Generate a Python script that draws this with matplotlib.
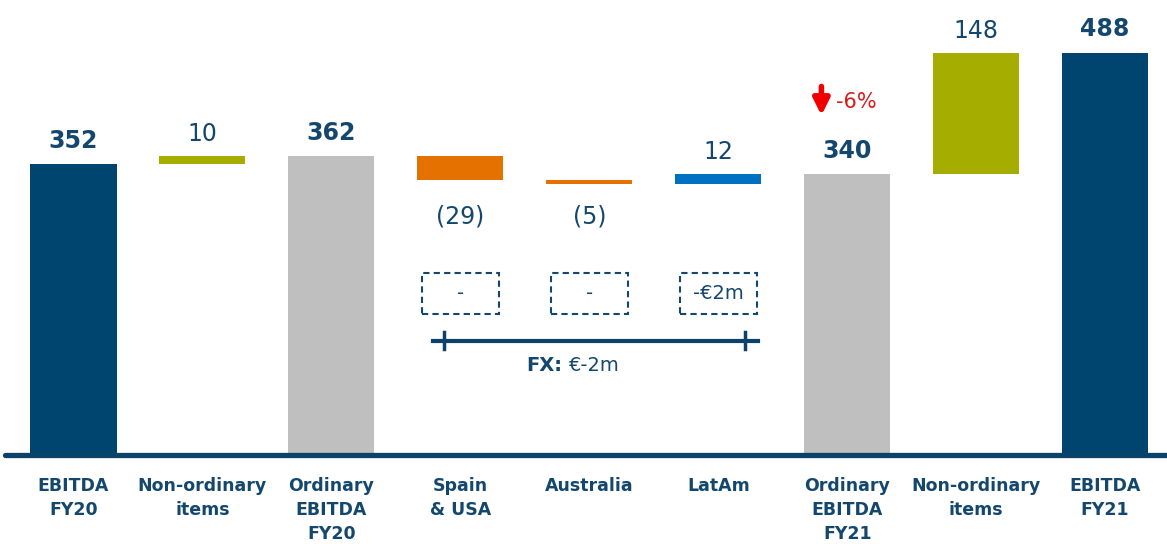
import matplotlib.pyplot as plt
from matplotlib.patches import Rectangle

categories = ["EBITDA\nFY20", "Non-ordinary\nitems", "Ordinary\nEBITDA\nFY20",
              "Spain\n& USA", "Australia", "LatAm",
              "Ordinary\nEBITDA\nFY21", "Non-ordinary\nitems", "EBITDA\nFY21"]
values = [352, 10, 362, -29, -5, 12, 340, 148, 488]
is_total = [True, False, True, False, False, False, True, False, True]
colors = ["#00456F", "#A5AE00", "#BFBFBF", "#E57200", "#E57200", "#0070C0",
          "#BFBFBF", "#A5AE00", "#00456F"]
fx_labels = ["-", "-", "-€2m"]
fx_total = "€-2m"
growth = "-6%"

TXT = "#14476E"

# waterfall bottoms / heights
bottoms, heights = [], []
running = 0
for v, tot in zip(values, is_total):
    if tot:
        bottoms.append(0)
        heights.append(v)
        running = v
    else:
        bottoms.append(min(running, running + v))
        heights.append(abs(v))
        running += v

fig = plt.figure(figsize=(11.67, 5.44), dpi=100)
ax = fig.add_axes([0, 0, 1, 1])
ax.set_xlim(-0.57, 8.48)
ax.set_ylim(-111, 552)
ax.axis("off")

x = list(range(len(values)))
ax.bar(x, heights, bottom=bottoms, width=0.667, color=colors, zorder=2)

# baseline
ax.plot([-0.53, 8.48], [-2.4, -2.4], color="#0B426A", lw=3.8, solid_capstyle="round", zorder=3)

# value labels
neg_y = min(b for b, v in zip(bottoms, values) if v < 0)
for i, (v, tot) in enumerate(zip(values, is_total)):
    if tot:
        ax.annotate(str(v), (i, bottoms[i] + heights[i]), xytext=(0, 8), textcoords="offset points",
                    ha="center", va="bottom", fontsize=17, fontweight="bold", color=TXT)
    elif v > 0:
        ax.annotate(str(v), (i, bottoms[i] + heights[i]), xytext=(0, 7), textcoords="offset points",
                    ha="center", va="bottom", fontsize=17, color=TXT)
    else:
        ax.annotate(f"({-v})", (i, neg_y), xytext=(0, -15), textcoords="offset points",
                    ha="center", va="top", fontsize=17, color=TXT)

# category labels
for i, c in enumerate(categories):
    ax.annotate(c, (i, 0), xytext=(0, -17), textcoords="offset points", ha="center", va="top",
                fontsize=12.5, fontweight="bold", color=TXT, linespacing=1.45)

# FX dashed boxes
for i, lab in zip([3, 4, 5], fx_labels):
    ax.add_patch(Rectangle((i - 0.3, 169), 0.6, 50, fill=False, ls=(0, (3, 2)),
                           lw=1.5, ec="#14476E", zorder=2))
    ax.text(i, 194, lab, ha="center", va="center", fontsize=14, color=TXT)

# FX bracket
ax.plot([2.79, 5.31], [136.6, 136.6], color="#0B426A", lw=3, zorder=2)
for xt in [2.875, 5.21]:
    ax.plot([xt, xt], [127, 147], color="#0B426A", lw=2.5, zorder=2)
ax.text(3.79, 107, "FX:", ha="right", va="center", fontsize=14, fontweight="bold", color=TXT)
ax.text(3.84, 107, fx_total, ha="left", va="center", fontsize=14, color=TXT)

# growth marker
ax.annotate("", xy=(5.80, 408), xytext=(5.80, 450),
            arrowprops=dict(arrowstyle="-|>", color="#F00000", lw=4, mutation_scale=24))
ax.text(5.91, 428, growth, ha="left", va="center", fontsize=15, color="#D81B1B")

fig.savefig("out.png", dpi=100)
